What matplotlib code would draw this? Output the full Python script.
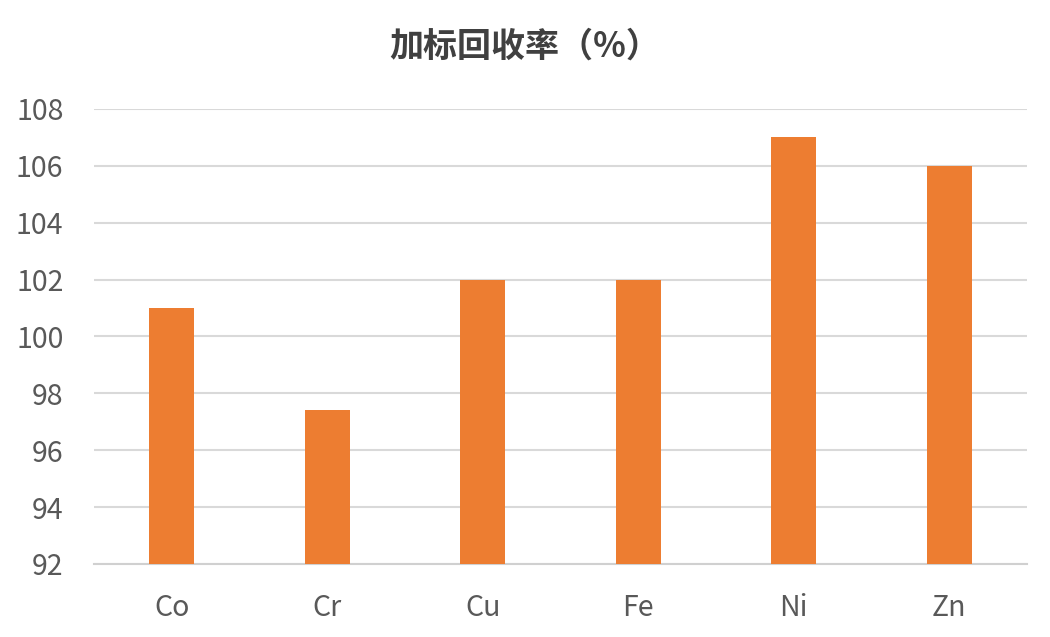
import matplotlib.pyplot as plt

plt.rcParams['font.family'] = ['Noto Sans CJK SC', 'DejaVu Sans']

# data
metals = ["Co", "Cr", "Cu", "Fe", "Ni", "Zn"]
recovery = [101, 97.4, 102, 102, 107, 106]
y_ticks = [92, 94, 96, 98, 100, 102, 104, 106, 108]

fig = plt.figure(figsize=(10.5, 6.37), dpi=100)
ax = fig.add_axes([0.0895, 0.1146, 0.8885, 0.7144])

ax.bar(metals, [v - 92 for v in recovery], bottom=92, width=0.29,
       color="#ED7D31", zorder=3)

ax.set_ylim(92, 108)
ax.set_xlim(-0.5, len(metals) - 0.5)
ax.set_yticks(y_ticks)
ax.set_yticklabels([str(t) for t in y_ticks])
ax.grid(axis='y', color="#D9D9D9", linewidth=1.5, zorder=0)

for s in ['top', 'right', 'left']:
    ax.spines[s].set_visible(False)
ax.spines['bottom'].set_color("#D0D0D0")
ax.spines['bottom'].set_linewidth(1.5)

ax.tick_params(axis='both', length=0, labelsize=20.5, colors="#595959")
ax.tick_params(axis='y', pad=22)
ax.tick_params(axis='x', pad=21)

fig.text(0.5, 0.928, "加标回收率（%）", ha='center', va='center',
         fontsize=24.5, fontweight='bold', color="#404040")

plt.savefig("out.png", dpi=100)
